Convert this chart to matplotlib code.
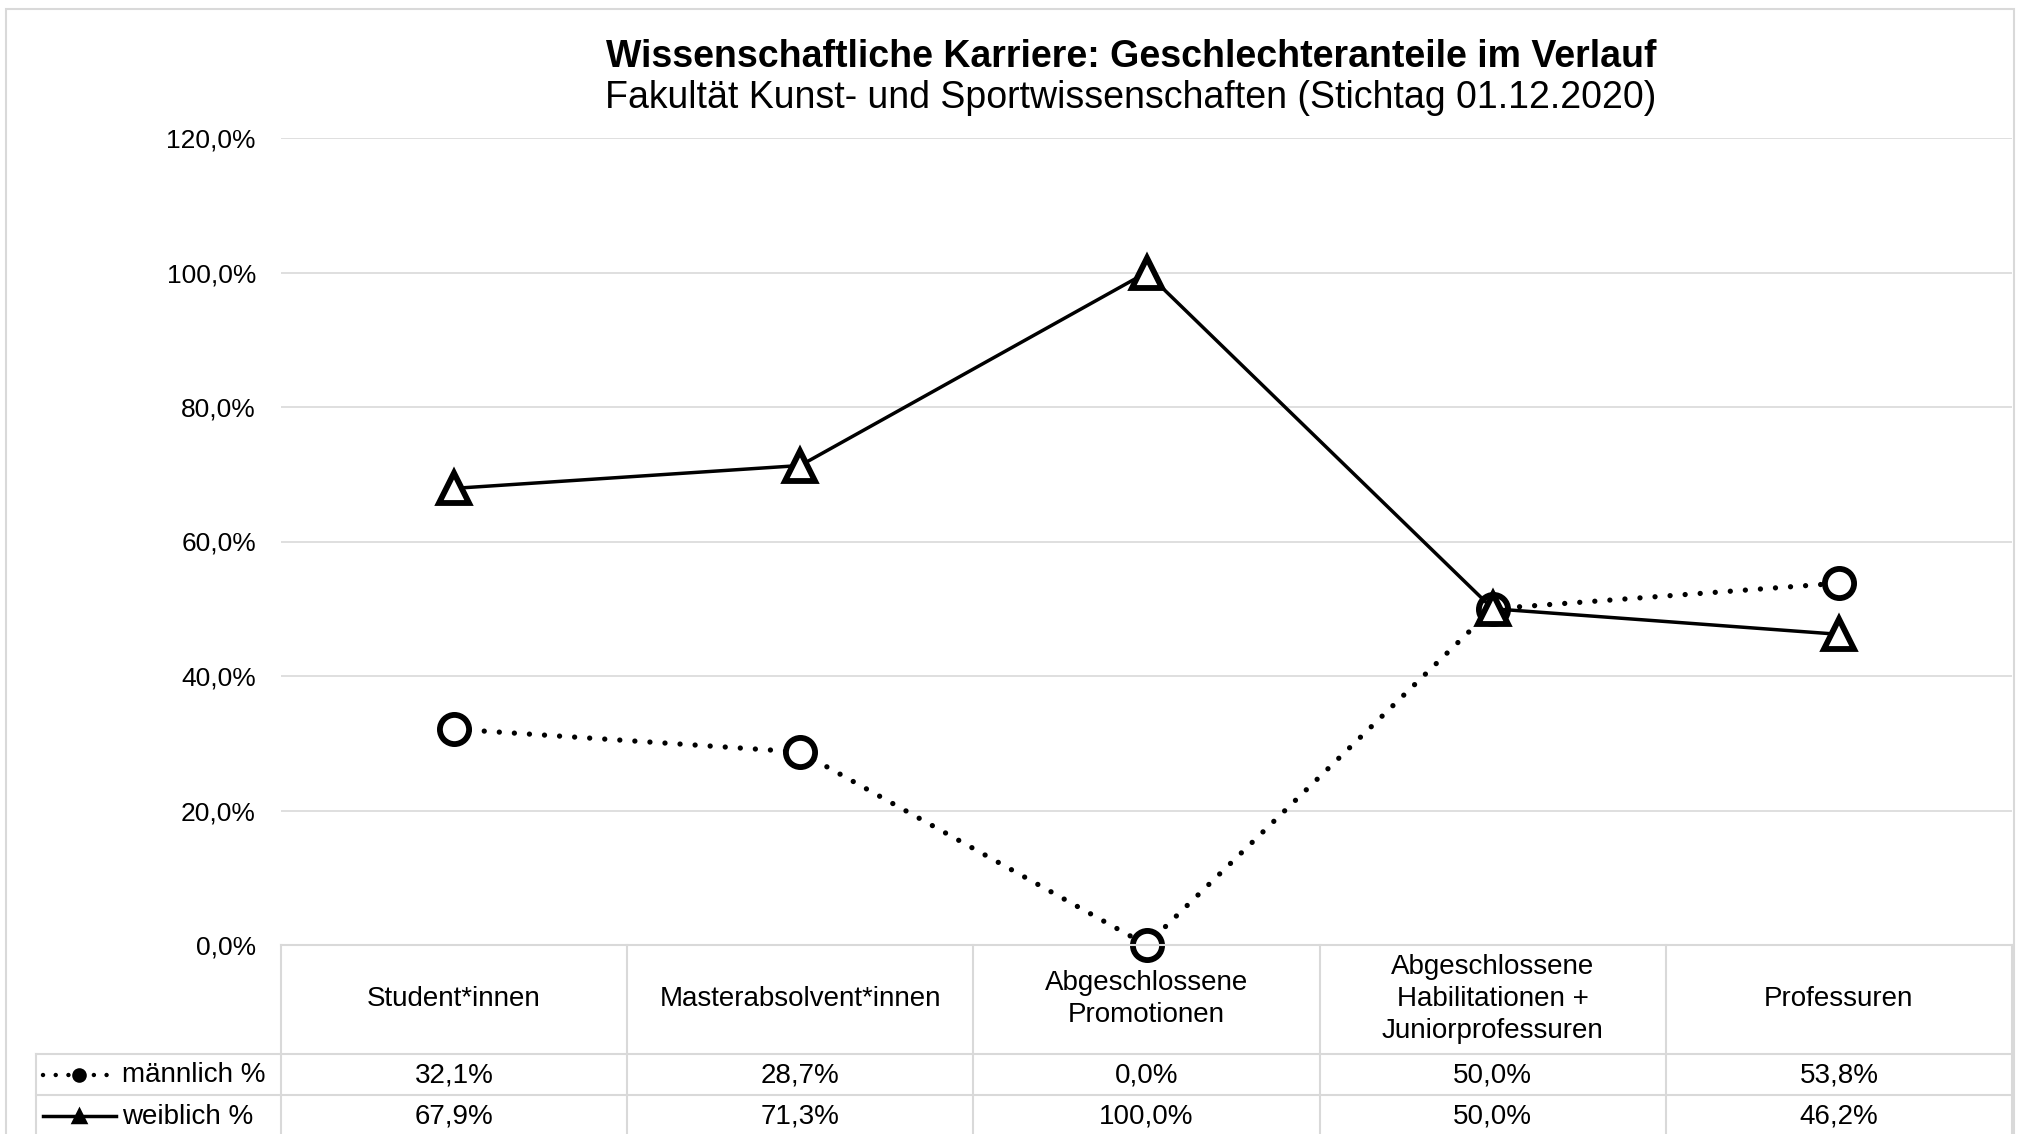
import matplotlib.pyplot as plt
from matplotlib.lines import Line2D
from matplotlib.patches import Rectangle

# data
categories = ["Student*innen", "Masterabsolvent*innen", "Abgeschlossene\nPromotionen",
              "Abgeschlossene\nHabilitationen +\nJuniorprofessuren", "Professuren"]
maennlich = [0.321, 0.287, 0.0, 0.500, 0.538]
weiblich = [0.679, 0.713, 1.000, 0.500, 0.462]
series_names = ["männlich %", "weiblich %"]
y_ticks = [0.0, 0.2, 0.4, 0.6, 0.8, 1.0, 1.2]

title = "Wissenschaftliche Karriere: Geschlechteranteile im Verlauf"
subtitle = "Fakultät Kunst- und Sportwissenschaften (Stichtag 01.12.2020)"

plt.rcParams['font.family'] = ['Liberation Sans', 'DejaVu Sans']

W, H = 2022, 1134
grid_col = '#d9d9d9'


def pct(v):
    return f"{v * 100:.1f}%".replace('.', ',')


fig = plt.figure(figsize=(W / 100, H / 100), dpi=100)

# outer frame
fig.patches.append(Rectangle((6 / W, -0.05), (2014 - 6) / W, 1.05 - 9 / H,
                             transform=fig.transFigure, fill=False,
                             edgecolor=grid_col, linewidth=1.5))

# main plot area
ax = fig.add_axes([281 / W, (H - 945) / H, (2012 - 281) / W, (945 - 138) / H])
x = list(range(len(categories)))
ax.set_xlim(-0.5, len(categories) - 0.5)
ax.set_ylim(0, 1.2)
ax.set_yticks(y_ticks)
ax.set_yticklabels([pct(t) for t in y_ticks], fontsize=19)
ax.tick_params(axis='y', length=0, pad=18)
ax.set_xticks([])
for s in ax.spines.values():
    s.set_visible(False)
ax.grid(axis='y', color=grid_col, linewidth=1.2)
ax.set_axisbelow(True)

male_style = dict(color='black', linewidth=3.8, linestyle=(0, (0.01, 2.85)),
                  dash_capstyle='round', marker='o', markersize=21,
                  markerfacecolor='white', markeredgecolor='black', markeredgewidth=4.2)
female_style = dict(color='black', linewidth=2.5, linestyle='-',
                    marker='^', markersize=22,
                    markerfacecolor='white', markeredgecolor='black', markeredgewidth=4.2)
ax.plot(x, maennlich, clip_on=False, zorder=3, **male_style)
ax.plot(x, weiblich, clip_on=False, zorder=4, **female_style)

# data table below
tab = fig.add_axes([281 / W, (H - 1136) / H, (2012 - 281) / W, 191 / H])
tab.set_xlim(-0.5, len(categories) - 0.5)
tab.set_ylim(191, 0)
tab.axis('off')
rows = [0, 109, 150, 191]
left_x = -0.5 - (281 - 36) / 346

lk = dict(color=grid_col, linewidth=1.5, clip_on=False)
tab.plot([-0.5, 4.5], [rows[0], rows[0]], **lk)
for r in rows[1:]:
    tab.plot([left_x, 4.5], [r, r], **lk)
for i in range(len(categories) + 1):
    tab.plot([i - 0.5, i - 0.5], [rows[0], rows[-1]], **lk)
tab.plot([left_x, left_x], [rows[1], rows[-1]], **lk)

for i, c in enumerate(categories):
    tab.text(i, (rows[0] + rows[1]) / 2, c, ha='center', va='center',
             fontsize=20, linespacing=1.3)
for i in range(len(categories)):
    tab.text(i, (rows[1] + rows[2]) / 2 + 1, pct(maennlich[i]), ha='center', va='center', fontsize=20)
    tab.text(i, (rows[2] + rows[3]) / 2 + 1, pct(weiblich[i]), ha='center', va='center', fontsize=20)

# legend keys inside the row label column
key_x0 = left_x + 7 / 346
key_x1 = left_x + 80 / 346
for r0, r1, name, st in [(rows[1], rows[2], series_names[0], male_style),
                         (rows[2], rows[3], series_names[1], female_style)]:
    yc = (r0 + r1) / 2
    kst = dict(st)
    kst['markersize'] = 8
    kst['markeredgewidth'] = 2.5
    kst['markerfacecolor'] = 'black'
    if st is male_style:
        kst['linewidth'] = 3.2
    tab.add_line(Line2D([key_x0, (key_x0 + key_x1) / 2, key_x1], [yc, yc, yc],
                        markevery=[1], clip_on=False, **kst))
    tab.text(key_x1 + 6 / 346, yc + 1, name, ha='left', va='center', fontsize=20)

fig.text(1131 / W, 1 - 57 / H, title, ha='center', va='center', fontsize=27, fontweight='bold')
fig.text(1131 / W, 1 - 98 / H, subtitle, ha='center', va='center', fontsize=27)

fig.savefig('out.png', dpi=100)
